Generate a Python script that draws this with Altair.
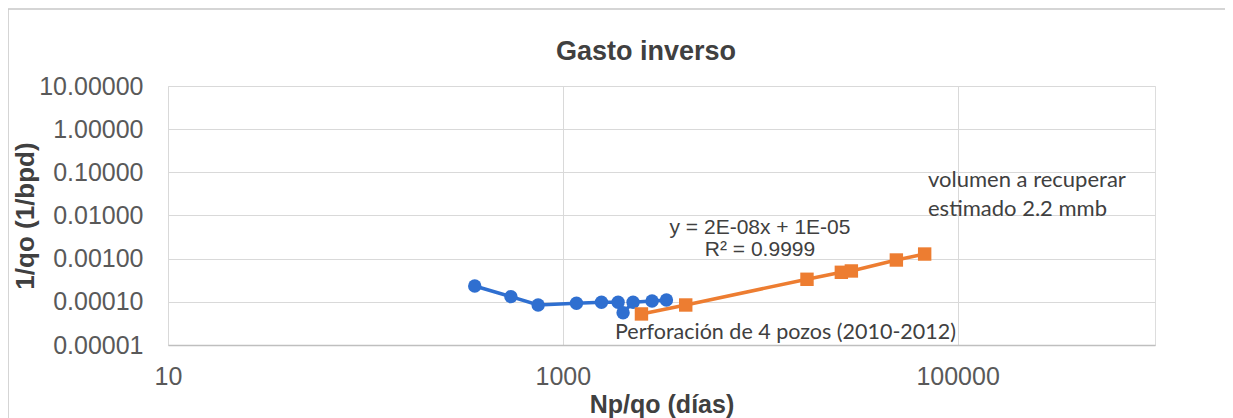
import altair as alt
import pandas as pd

# ---- data ----
blue_x = [358, 546, 750, 1173, 1570, 1906, 2020, 2270, 2832, 3350]
blue_y = [2.33e-4, 1.32e-4, 8.45e-5, 9.25e-5, 9.75e-5, 9.75e-5, 5.6e-5, 9.75e-5, 1.05e-4, 1.10e-4]
orange_x = [2503, 4195, 17260, 25770, 28960, 48950, 68100]
orange_y = [5.24e-5, 8.45e-5, 3.33e-4, 4.83e-4, 5.19e-4, 9.31e-4, 1.28e-3]

x_ticks = [10, 1000, 100000]
y_ticks = [0.00001, 0.0001, 0.001, 0.01, 0.1, 1, 10]

title_text = "Gasto inverso"
x_title = "Np/qo (días)"
y_title = "1/qo (1/bpd)"
eq_lines = ["y = 2E-08x + 1E-05", "R² = 0.9999"]
perf_text = "Perforación de 4 pozos (2010-2012)"
vol_lines = ["volumen a recuperar", "estimado 2.2 mmb"]

BLUE = "#2F6FD0"
ORANGE = "#ED7D31"
W, H = 987, 259

blue_df = pd.DataFrame({"x": blue_x, "y": blue_y})
orange_df = pd.DataFrame({"x": orange_x, "y": orange_y})

xs = alt.Scale(type="log", domain=[10, 1000000], nice=False)
ys = alt.Scale(type="log", domain=[0.00001, 10], nice=False)

xenc = alt.X("x:Q", scale=xs, title=x_title,
             axis=alt.Axis(values=x_ticks, format="d", labelFontSize=25, labelColor="#595959",
                           labelFont="Liberation Sans", tickSize=0, labelPadding=19,
                           labelFlush=False,
                           domainColor="#bfbfbf", domainWidth=1.5, gridColor="#d9d9d9",
                           titleFont="Liberation Sans", titleFontSize=25, titleFontWeight="bold",
                           titleColor="#404040", titlePadding=3))
yenc = alt.Y("y:Q", scale=ys, title=y_title,
             axis=alt.Axis(values=y_ticks, format=".5f", labelFontSize=25, labelColor="#595959",
                           labelFont="Liberation Sans", tickSize=0, labelPadding=25,
                           domain=False, gridColor="#d9d9d9",
                           titleFont="Liberation Sans", titleFontSize=26, titleFontWeight="bold",
                           titleColor="#404040", titlePadding=0))

blue_line = alt.Chart(blue_df).mark_line(color=BLUE, strokeWidth=3.5).encode(x=xenc, y=yenc)
blue_pts = alt.Chart(blue_df).mark_point(shape="circle", filled=True, color=BLUE, size=180, opacity=1).encode(x="x:Q", y="y:Q")
orange_line = alt.Chart(orange_df).mark_line(color=ORANGE, strokeWidth=3.5).encode(x="x:Q", y="y:Q")
orange_pts = alt.Chart(orange_df).mark_point(shape="square", filled=True, color=ORANGE, size=180, opacity=1).encode(x="x:Q", y="y:Q")

one = pd.DataFrame({"a": [0]})

def txt(t, x, y, align, font, size, color="#404040", weight="normal"):
    return alt.Chart(one).mark_text(text=t, align=align, baseline="middle", font=font,
                                    fontSize=size, color=color, fontWeight=weight).encode(
        x=alt.value(x), y=alt.value(y))

title_mark = txt(title_text, 478, -34, "center", "Liberation Sans", 27, weight="bold")
eq1 = txt(eq_lines[0], 592, 142, "center", "Liberation Sans", 21)
eq2 = txt(eq_lines[1], 592, 164, "center", "Liberation Sans", 21)
perf = txt(perf_text, 447, 247, "left", "Lato", 21.5)
vol1 = txt(vol_lines[0], 760, 94, "left", "Lato", 22)
vol2 = txt(vol_lines[1], 760, 123, "left", "Lato", 22)

border = alt.Chart(one).mark_rect(fill=None, stroke="#c8c8c8", strokeWidth=1.5).encode(
    x=alt.value(-160), x2=alt.value(1059), y=alt.value(-77), y2=alt.value(336))

chart = alt.layer(border, blue_line, orange_line, blue_pts, orange_pts, title_mark,
                  eq1, eq2, perf, vol1, vol2).properties(
    width=W, height=H,
    autosize=alt.AutoSizeParams(type="none"),
    padding={"left": 160, "top": 78, "right": 70, "bottom": 73},
).configure_view(stroke=None).configure(background="white")

chart.save("out.html", embed_options={"renderer": "svg", "actions": False})
